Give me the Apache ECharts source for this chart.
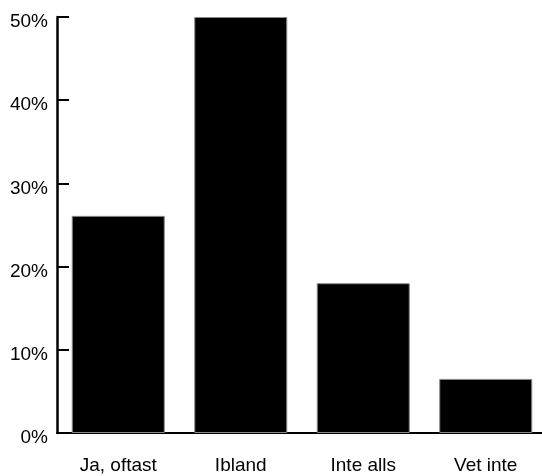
<!DOCTYPE html>
<html><head><meta charset="utf-8">
<script src="https://cdn.jsdelivr.net/npm/echarts@6/dist/echarts.min.js"></script>
<style>html,body{margin:0;padding:0;background:#fff;overflow:hidden}#c{width:560px;height:476px}</style>
</head><body><div id="c"></div>
<script>
var categories = ["Ja, oftast", "Ibland", "Inte alls", "Vet inte"];
var values = [26.1, 50, 18, 6.5];
var yTicks = [0, 10, 20, 30, 40, 50];

var chart = echarts.init(document.getElementById('c'), null, {renderer: 'canvas'});
chart.setOption({
  animation: false,
  grid: {left: 57, top: 17, width: 490, height: 416, containLabel: false},
  xAxis: {
    type: 'category', data: categories,
    axisLine: {show: true, lineStyle: {color: '#000', width: 2}},
    axisTick: {show: false},
    axisLabel: {color: '#000', fontFamily: 'Liberation Sans', fontSize: 19, margin: 23}
  },
  yAxis: {
    type: 'value', min: 0, max: 50, interval: 10,
    axisLine: {show: true, lineStyle: {color: '#000', width: 2.5}},
    axisTick: {show: true, inside: true, length: 12, lineStyle: {color: '#000', width: 2}},
    splitLine: {show: false},
    axisLabel: {color: '#000', fontFamily: 'Liberation Sans', fontSize: 19, margin: 9,
      verticalAlign: 'top', lineHeight: 10,
      formatter: function (v) { return yTicks.indexOf(v) >= 0 ? v + '%' : ''; }}
  },
  series: [{
    type: 'bar', data: values, barWidth: 93,
    itemStyle: {color: '#000', borderColor: '#888', borderWidth: 1}
  }]
});
</script></body></html>
